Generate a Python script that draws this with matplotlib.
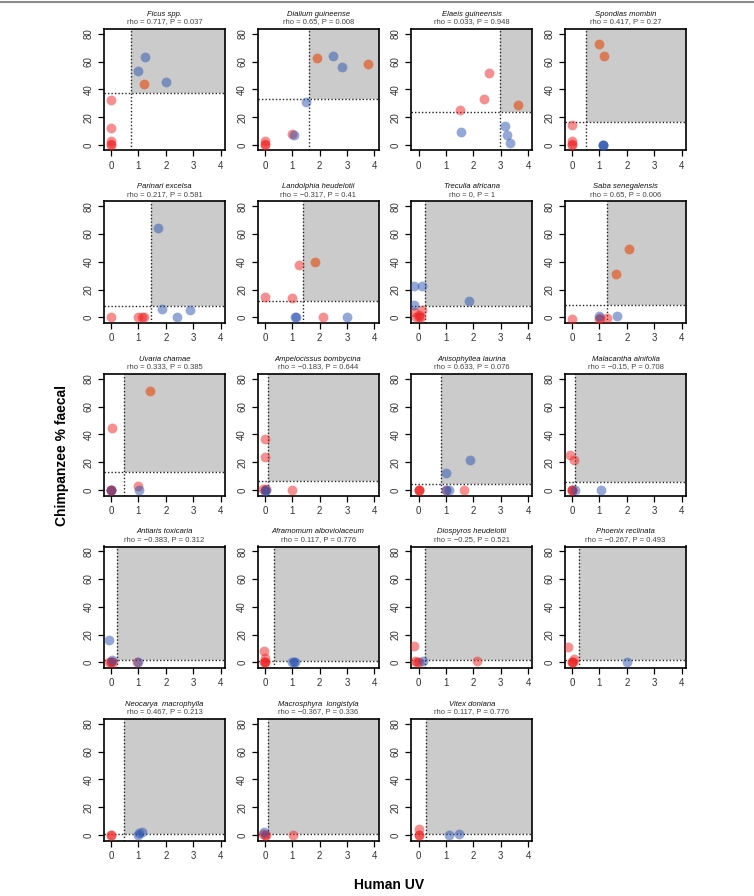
import numpy as np
import matplotlib
matplotlib.use("Agg")
import matplotlib.pyplot as plt
from matplotlib.lines import Line2D

plt.rcParams['font.family'] = ['Liberation Sans', 'DejaVu Sans']

# panel data
species = ["Ficus spp.", "Dialium guineense", "Elaeis guineensis", "Spondias mombin",
           "Parinari excelsa", "Landolphia heudelotii", "Treculia africana", "Saba senegalensis",
           "Uvaria chamae", "Ampelocissus bombycina", "Anisophyllea laurina", "Malacantha alnifolia",
           "Antiaris toxicaria", "Aframomum alboviolaceum", "Diospyros heudelotii", "Phoenix reclinata",
           "Neocarya  macrophylla", "Macrosphyra  longistyla", "Vitex doniana"]
rho = ["0.717", "0.65", "0.033", "0.417", "0.217", "\u22120.317", "0", "0.65",
       "0.333", "\u22120.183", "0.633", "\u22120.15", "\u22120.383", "0.117", "\u22120.25", "\u22120.267",
       "0.467", "\u22120.367", "0.117"]
pval = ["0.037", "0.008", "0.948", "0.27", "0.581", "0.41", "1", "0.006",
        "0.385", "0.644", "0.076", "0.708", "0.312", "0.776", "0.521", "0.493",
        "0.213", "0.336", "0.776"]
x_thr = [0.73, 1.62, 2.96, 0.49, 1.47, 1.39, 0.22, 1.27, 0.48, 0.12, 0.83, 0.12,
         0.21, 0.33, 0.22, 0.24, 0.48, 0.12, 0.28]
y_thr = [37.7, 33.0, 23.6, 16.8, 7.9, 11.8, 7.9, 9.1, 13.2, 6.7, 4.1, 5.5,
         1.9, 1.0, 1.4, 1.4, 0.7, 0.5, 0.7]

red_x = [[0, 0, 0, 0, 0, 1.2],
         [0, 0, 0, 1.0, 1.9, 3.78],
         [1.52, 2.41, 2.59, 3.63],
         [0, 0, 0, 0, 1.0, 1.15],
         [0, 0.99, 1.12, 1.21],
         [0, 0.99, 1.24, 1.82, 2.13],
         [-0.15, 0.13, 0, 0, -0.1, 0.1],
         [0, 1.0, 1.02, 1.26, 1.6, 2.06],
         [0, 0, 0, 0.02, 0.97, 1.42],
         [0.01, 0.02, 0.98, 0.06, -0.05, 0],
         [0, 0, 0, 1.0, 1.66],
         [-0.09, 0.06, 0, 0, 0],
         [-0.08, 0.08, 0, 0, 0.96],
         [-0.04, 0, 0, -0.03, 0.02],
         [-0.17, -0.12, 0, -0.05, 2.15],
         [-0.15, 0.06, 0, -0.02, 0.03],
         [0, 0],
         [0, 0.06, -0.05, 1.04],
         [0, 0, 0]]
red_y = [[32.5, 12.5, 2.5, 0.5, 0, 43.5],
         [2.5, 0.5, 0, 7.7, 62.5, 58],
         [24.8, 33, 51.7, 28.6],
         [14.5, 2.5, 0.5, 0, 72.8, 63.7],
         [0, 0, 0, 0],
         [15, 14, 38, 39.7, 0],
         [4, 5, 1.5, 0, 0.5, 0],
         [-1, -1, -0.5, -0.5, 31.5, 49.5],
         [0, 0, 0, 44.5, 3, 71.4],
         [36.3, 23.6, 0, 0.7, 1, 0],
         [0, 0, 0, 0, 0],
         [25.2, 21.6, 0, 0, 0],
         [0, 0, 0, 0.5, 0],
         [7.9, 3.4, 0, 0, 0.5],
         [11.5, 0.7, 0, 0, 0.7],
         [10.8, 2.2, 0, 0, 0.5],
         [0, 0],
         [0, 0, 0.5, 0],
         [4.3, 0, 0]]
blue_x = [[1.0, 1.25, 2.0],
          [1.05, 1.5, 2.5, 2.83],
          [1.55, 3.16, 3.22, 3.33],
          [1.12, 1.13, 1.14],
          [1.71, 1.87, 2.39, 2.87],
          [1.1, 1.13, 2.99],
          [-0.15, 0.13, -0.15, 1.84],
          [1.0, 1.65],
          [1.03, 0],
          [0, 0.03],
          [1.02, 1.0, 1.11, 1.89],
          [0.1, 1.07],
          [-0.08, 0.02, 0.98],
          [0.99, 1.05, 1.1],
          [0.16],
          [1.99],
          [0.99, 1.03, 1.12],
          [-0.04],
          [1.11, 1.48]]
blue_y = [[53.5, 63, 45],
          [7.2, 31, 64, 55.8],
          [9.4, 13.9, 7.5, 1.4],
          [0, 0, 0],
          [64, 6, 0, 5],
          [0, 0, 0],
          [22.4, 22.4, 9, 11.8],
          [0.7, 1],
          [0, 0],
          [-1, 0],
          [12, 0, 0, 21.4],
          [0, 0],
          [16.3, 1.4, 0],
          [0, 0, 0],
          [0.7],
          [0],
          [0, 1.2, 2.4],
          [2.4],
          [0, 0.7]]

W, H = 754, 896
fig = plt.figure(figsize=(W / 100, H / 100), dpi=100)

col_left = [104, 257.7, 411.4, 565]
row_top = [29, 201.5, 374, 546.5, 719]
aw, ah = 121, 121.5
xlo, xhi = -0.26, 4.16
ylo, yhi = -4, 83.4

for i in range(len(species)):
    r, c = divmod(i, 4)
    ax = fig.add_axes([col_left[c] / W, 1 - (row_top[r] + ah) / H, aw / W, ah / H])
    ax.set_xlim(xlo, xhi)
    ax.set_ylim(ylo, yhi)
    # shaded quadrant + dotted thresholds
    ax.fill_between([x_thr[i], xhi], y_thr[i], yhi, color='#cbcbcb', lw=0, zorder=0)
    ax.axvline(x_thr[i], color='#222222', ls=(0, (1, 1.5)), lw=1.0, zorder=1)
    ax.axhline(y_thr[i], color='#222222', ls=(0, (1, 1.5)), lw=1.0, zorder=1)

    rx = np.array(red_x[i]); ry = np.array(red_y[i])
    inside = (rx > x_thr[i]) & (ry > y_thr[i])
    ax.scatter(rx[~inside], ry[~inside], s=50, color='#ee2020', alpha=0.5, lw=0, zorder=3)
    ax.scatter(rx[inside], ry[inside], s=50, color='#e0602e', alpha=0.75, lw=0, zorder=3)
    ax.scatter(blue_x[i], blue_y[i], s=50, color='#2a52b0', alpha=0.5, lw=0, zorder=3)

    ax.set_xticks([0, 1, 2, 3, 4])
    ax.set_yticks([0, 20, 40, 60, 80])
    ax.tick_params(length=4, width=0.9, labelsize=7, labelcolor='#333333', pad=3.5)
    for lab in ax.get_yticklabels():
        lab.set_rotation(90)
        lab.set_va('center')
    for sp in ax.spines.values():
        sp.set_linewidth(1.2)

    ax.text(0.5, 1.12, species[i], transform=ax.transAxes, ha='center', va='center',
            fontsize=5.5, style='italic', color='#111111')
    ax.text(0.5, 1.06, "rho = %s, P = %s" % (rho[i], pval[i]), transform=ax.transAxes,
            ha='center', va='center', fontsize=5.5, color='#444444')

fig.text(62 / W, 1 - 455 / H, "Chimpanzee % faecal", rotation=90, ha='center', va='center',
         fontsize=10, fontweight='bold')
fig.text(389 / W, 1 - 885 / H, "Human UV", ha='center', va='center',
         fontsize=10, fontweight='bold')
fig.add_artist(Line2D([0, 1], [1 - 2.5 / H, 1 - 2.5 / H], color='#8a8a8a', lw=1.5))

fig.savefig("out.png", dpi=100)
